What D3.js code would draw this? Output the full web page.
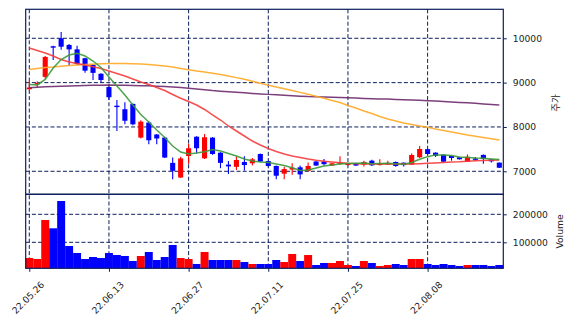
<!DOCTYPE html>
<html><head><meta charset="utf-8">
<script src="https://cdn.jsdelivr.net/npm/d3@7"></script>
<style>body{margin:0;background:#fff}svg{display:block}</style>
</head><body>
<svg id="c" width="574" height="326"></svg>
<script>
const dates = ["22.05.26","22.05.27","22.05.30","22.05.31","22.06.02","22.06.03","22.06.07","22.06.08","22.06.09","22.06.10",
"22.06.13","22.06.14","22.06.15","22.06.16","22.06.17","22.06.20","22.06.21","22.06.22","22.06.23","22.06.24",
"22.06.27","22.06.28","22.06.29","22.06.30","22.07.01","22.07.04","22.07.05","22.07.06","22.07.07","22.07.08",
"22.07.11","22.07.12","22.07.13","22.07.14","22.07.15","22.07.18","22.07.19","22.07.20","22.07.21","22.07.22",
"22.07.25","22.07.26","22.07.27","22.07.28","22.07.29","22.08.01","22.08.02","22.08.03","22.08.04","22.08.05",
"22.08.08","22.08.09","22.08.10","22.08.11","22.08.12","22.08.16","22.08.17","22.08.18","22.08.19","22.08.22"];
const opens  = [8850,8960,9130,9820,10000,9850,9750,9550,9400,9200,8900,8480,8400,8520,7760,8100,7830,7760,7190,6860,
7345,7780,7293,7760,7420,7150,7100,7210,7180,7390,7230,7120,6945,7040,7090,7010,7220,7225,7130,7175,
7140,7180,7150,7240,7140,7150,7210,7195,7150,7316,7500,7420,7375,7345,7316,7216,7290,7370,7270,7195];
const highs  = [9040,9030,9600,9830,10140,9870,9830,9560,9420,9210,8910,8610,8560,8530,8150,8130,7840,7780,7310,7330,
7620,7790,7840,7770,7430,7230,7330,7340,7300,7400,7240,7130,7100,7180,7130,7200,7230,7280,7190,7340,
7185,7190,7240,7260,7270,7240,7220,7200,7400,7570,7510,7430,7380,7350,7320,7380,7320,7380,7280,7200];
const lows   = [8830,8900,9090,9510,9740,9380,9400,9220,9060,9000,8610,7910,8060,8040,7740,7610,7610,7300,6820,6850,
7165,7400,7280,7370,7070,6940,7030,7020,7130,7210,7110,6820,6820,6920,6820,6990,7120,7130,7120,7150,
7130,7120,7110,7120,7130,7140,7100,7110,7140,7300,7380,7320,7210,7240,7265,7210,7230,7170,7200,7075];
const closes = [8890,8990,9580,9800,9810,9750,9420,9270,9220,9060,8670,8460,8140,8060,8120,7700,7740,7310,7010,7290,
7520,7520,7767,7390,7190,7110,7255,7140,7270,7220,7120,6900,7050,7080,6930,7120,7130,7160,7180,7200,
7175,7130,7210,7135,7180,7190,7120,7140,7368,7503,7390,7350,7216,7300,7271,7329,7260,7280,7225,7080];
const volumes = [43900,40400,179600,150000,247500,86800,61800,40400,47500,43900,61800,54600,51100,33200,51100,65400,36800,47500,90400,43900,
40400,22500,65400,36800,36800,36800,36800,29600,22500,22500,22500,36800,29600,58300,33200,54600,18900,26100,26100,33200,
18900,15400,33200,26100,15400,18900,22500,18900,40400,40400,22500,18900,22500,18900,15400,18900,18900,18900,15400,18900];
const ma5  = [8958,8947,9071,9330,9522,9623,9662,9601,9488,9341,9127,8924,8721,8495,8281,8112,7931,7762,7571,7435,
7390,7413,7442,7492,7458,7401,7345,7277,7232,7210,7198,7164,7131,7080,7020,7030,7075,7120,7142,7164,
7176,7180,7185,7170,7175,7180,7170,7160,7200,7270,7330,7370,7370,7355,7320,7310,7300,7295,7280,7265];
const ma20 = [9781,9725,9668,9601,9522,9465,9431,9398,9357,9319,9262,9206,9150,9082,9014,8958,8890,8822,8732,8647,
8574,8495,8394,8270,8157,8022,7909,7796,7683,7593,7514,7446,7390,7345,7311,7277,7248,7228,7210,7194,
7180,7170,7165,7164,7164,7164,7164,7164,7164,7171,7180,7187,7198,7210,7216,7228,7237,7243,7248,7255];
const ma60 = [9296,9319,9341,9353,9371,9386,9400,9409,9416,9425,9429,9432,9432,9427,9420,9407,9393,9375,9353,9319,
9289,9262,9240,9213,9183,9150,9113,9075,9032,8987,8942,8901,8861,8820,8780,8739,8694,8647,8597,8552,
8484,8428,8360,8304,8236,8180,8134,8089,8055,8022,7993,7954,7920,7886,7852,7819,7792,7762,7733,7706];
const ma120 = [8886,8895,8905,8912,8919,8925,8930,8935,8940,8943,8945,8943,8940,8936,8932,8929,8920,8910,8900,8890,
8873,8856,8838,8820,8807,8795,8782,8770,8757,8745,8735,8725,8715,8705,8695,8685,8680,8675,8670,8665,
8658,8651,8644,8637,8633,8630,8622,8614,8607,8600,8592,8583,8573,8564,8554,8545,8533,8520,8508,8495];
const priceTicks = [7000,8000,9000,10000];
const volumeTicks = [100000,200000];
const xTickIdx = [0,10,20,30,40,50];

const navy = "#0b1f5c";
const upC = "#ff0000", downC = "#0000ff";
const font = "'DejaVu Sans', sans-serif";
const svg = d3.select("#c");
const L = 25.7, R = 503.3, T = 9.3, M = 194.3, B = 268.3;

const x = d3.scaleLinear().domain([-0.45, dates.length - 0.5]).range([L, R]);
const yP = d3.scaleLinear().domain([6481, 10654]).range([M, T]);
const yV = d3.scaleLinear().domain([7143, 271430]).range([B, M]);
const step = x(1) - x(0);

const data = dates.map((d, i) => ({i, d, o: opens[i], h: highs[i], l: lows[i], c: closes[i], v: volumes[i]}));
const col = d => d.c >= d.o ? upC : downC;

// grid
const g = svg.append("g").attr("stroke", navy).attr("stroke-width", 1).attr("stroke-dasharray", "4,2.2");
g.selectAll(".vg").data(xTickIdx).join("line")
  .attr("x1", d => x(d)).attr("x2", d => x(d)).attr("y1", T).attr("y2", B);
g.selectAll(".hp").data(priceTicks).join("line")
  .attr("x1", L).attr("x2", R).attr("y1", d => yP(d)).attr("y2", d => yP(d));
g.selectAll(".hv").data(volumeTicks).join("line")
  .attr("x1", L).attr("x2", R).attr("y1", d => yV(d)).attr("y2", d => yV(d));

// volume bars
svg.append("g").selectAll("rect").data(data).join("rect")
  .attr("x", d => x(d.i) - step / 2).attr("width", step)
  .attr("y", d => yV(d.v)).attr("height", d => B - yV(d.v))
  .attr("fill", col);

// candles
const cw = step * 0.64;
const cg = svg.append("g");
cg.selectAll("line").data(data).join("line")
  .attr("x1", d => x(d.i)).attr("x2", d => x(d.i))
  .attr("y1", d => yP(d.h)).attr("y2", d => yP(d.l))
  .attr("stroke", col).attr("stroke-width", 1.1);
cg.selectAll("rect").data(data).join("rect")
  .attr("x", d => x(d.i) - cw / 2).attr("width", cw)
  .attr("y", d => yP(Math.max(d.o, d.c)))
  .attr("height", d => Math.max(1.4, Math.abs(yP(d.o) - yP(d.c))))
  .attr("fill", col);

// moving averages
const line = d3.line().x((d, i) => x(i)).y(d => yP(d)).curve(d3.curveLinear);
[[ma120, "#6e2a6e"], [ma60, "#ffa825"], [ma20, "#f53a3a"], [ma5, "#3a9a3a"]].forEach(([arr, c]) => {
  svg.append("path").datum(arr).attr("d", line).attr("fill", "none")
    .attr("stroke", c).attr("stroke-width", 1.5).attr("stroke-opacity", 0.9);
});

// frames
const fr = svg.append("g").attr("fill", "none").attr("stroke", navy).attr("stroke-width", 1.2);
fr.append("rect").attr("x", L).attr("y", T).attr("width", R - L).attr("height", M - T);
fr.append("rect").attr("x", L).attr("y", M).attr("width", R - L).attr("height", B - M);

// axes
function styleAxis(sel) {
  sel.select(".domain").remove();
  sel.selectAll(".tick line").attr("stroke", navy).attr("stroke-width", 1);
  sel.selectAll(".tick text").attr("fill", "#222").style("font-family", font).style("font-size", "9.2px");
}
const ayP = svg.append("g").attr("transform", `translate(${R},0)`)
  .call(d3.axisRight(yP).tickValues(priceTicks).tickSize(3.5).tickPadding(6).tickFormat(d3.format("d")));
styleAxis(ayP);
const ayV = svg.append("g").attr("transform", `translate(${R},0)`)
  .call(d3.axisRight(yV).tickValues(volumeTicks).tickSize(3.5).tickPadding(6).tickFormat(d3.format("d")));
styleAxis(ayV);
const ax = svg.append("g").attr("transform", `translate(0,${B})`)
  .call(d3.axisBottom(x).tickValues(xTickIdx).tickSize(3.5).tickFormat(i => dates[i]));
styleAxis(ax);
ax.selectAll(".tick text").attr("y", 0).attr("dy", "0.33em")
  .attr("text-anchor", "middle").attr("transform", "translate(-1.5,29.5) rotate(-45)");

// labels
svg.append("text").attr("transform", "translate(556,103) rotate(-90)")
  .attr("text-anchor", "middle").attr("dy", "0.35em")
  .style("font-family", "'Noto Sans CJK KR', sans-serif").style("font-size", "9.5px").attr("fill", "#222").text("주가");
svg.append("text").attr("transform", "translate(560,231.5) rotate(-90)")
  .attr("text-anchor", "middle").attr("dy", "0.35em")
  .style("font-family", font).style("font-size", "9.2px").attr("fill", "#222").text("Volume");
</script>
</body></html>
